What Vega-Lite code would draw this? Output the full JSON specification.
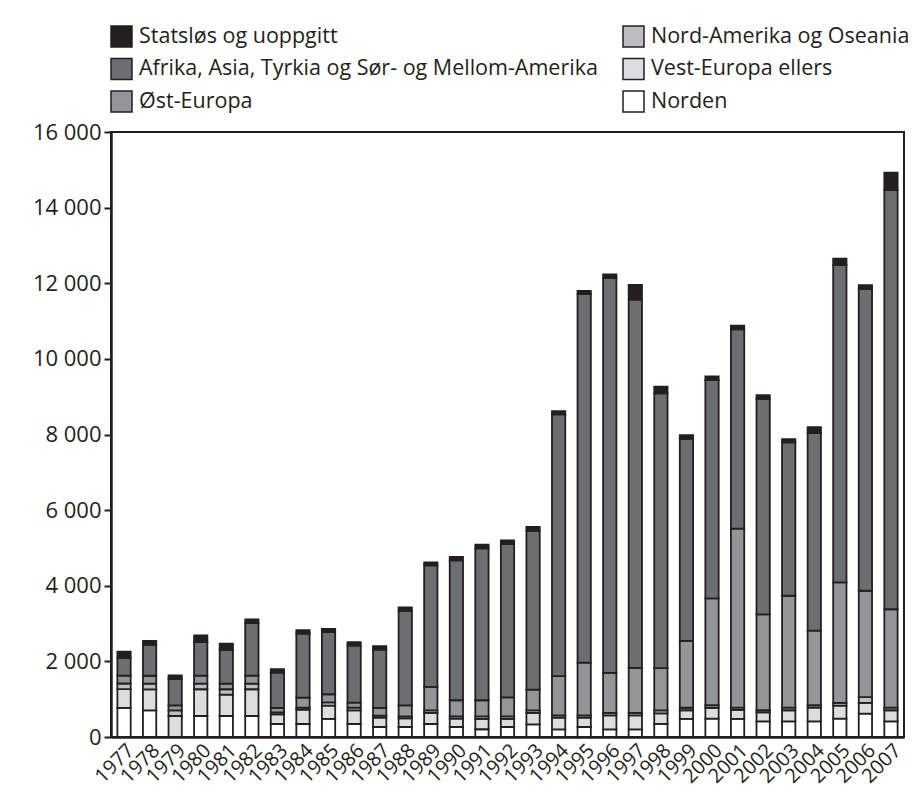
{
  "$schema": "https://vega.github.io/schema/vega-lite/v6.json",
  "autosize": "none",
  "width": 793,
  "height": 605,
  "padding": {"left": 111, "top": 132, "right": 20, "bottom": 60},
  "background": "white",
  "datasets": {
    "regioner": [
      {"region": "Norden", "rekkefolge": 1},
      {"region": "Vest-Europa ellers", "rekkefolge": 2},
      {"region": "Nord-Amerika og Oseania", "rekkefolge": 3},
      {"region": "Øst-Europa", "rekkefolge": 4},
      {"region": "Afrika, Asia, Tyrkia og Sør- og Mellom-Amerika", "rekkefolge": 5},
      {"region": "Statsløs og uoppgitt", "rekkefolge": 6}
    ],
    "asyl": [
      {"år": "1977", "region": "Norden", "antall": 770},
      {"år": "1977", "region": "Vest-Europa ellers", "antall": 495},
      {"år": "1977", "region": "Nord-Amerika og Oseania", "antall": 150},
      {"år": "1977", "region": "Øst-Europa", "antall": 210},
      {"år": "1977", "region": "Afrika, Asia, Tyrkia og Sør- og Mellom-Amerika", "antall": 470},
      {"år": "1977", "region": "Statsløs og uoppgitt", "antall": 165},
      {"år": "1978", "region": "Norden", "antall": 705},
      {"år": "1978", "region": "Vest-Europa ellers", "antall": 555},
      {"år": "1978", "region": "Nord-Amerika og Oseania", "antall": 150},
      {"år": "1978", "region": "Øst-Europa", "antall": 210},
      {"år": "1978", "region": "Afrika, Asia, Tyrkia og Sør- og Mellom-Amerika", "antall": 820},
      {"år": "1978", "region": "Statsløs og uoppgitt", "antall": 100},
      {"år": "1979", "region": "Norden", "antall": 0},
      {"år": "1979", "region": "Vest-Europa ellers", "antall": 556},
      {"år": "1979", "region": "Nord-Amerika og Oseania", "antall": 150},
      {"år": "1979", "region": "Øst-Europa", "antall": 133},
      {"år": "1979", "region": "Afrika, Asia, Tyrkia og Sør- og Mellom-Amerika", "antall": 690},
      {"år": "1979", "region": "Statsløs og uoppgitt", "antall": 97},
      {"år": "1980", "region": "Norden", "antall": 556},
      {"år": "1980", "region": "Vest-Europa ellers", "antall": 707},
      {"år": "1980", "region": "Nord-Amerika og Oseania", "antall": 150},
      {"år": "1980", "region": "Øst-Europa", "antall": 212},
      {"år": "1980", "region": "Afrika, Asia, Tyrkia og Sør- og Mellom-Amerika", "antall": 883},
      {"år": "1980", "region": "Statsløs og uoppgitt", "antall": 176},
      {"år": "1981", "region": "Norden", "antall": 556},
      {"år": "1981", "region": "Vest-Europa ellers", "antall": 565},
      {"år": "1981", "region": "Nord-Amerika og Oseania", "antall": 142},
      {"år": "1981", "region": "Øst-Europa", "antall": 150},
      {"år": "1981", "region": "Afrika, Asia, Tyrkia og Sør- og Mellom-Amerika", "antall": 892},
      {"år": "1981", "region": "Statsløs og uoppgitt", "antall": 167},
      {"år": "1982", "region": "Norden", "antall": 556},
      {"år": "1982", "region": "Vest-Europa ellers", "antall": 707},
      {"år": "1982", "region": "Nord-Amerika og Oseania", "antall": 150},
      {"år": "1982", "region": "Øst-Europa", "antall": 212},
      {"år": "1982", "region": "Afrika, Asia, Tyrkia og Sør- og Mellom-Amerika", "antall": 1386},
      {"år": "1982", "region": "Statsløs og uoppgitt", "antall": 97},
      {"år": "1983", "region": "Norden", "antall": 344},
      {"år": "1983", "region": "Vest-Europa ellers", "antall": 256},
      {"år": "1983", "region": "Nord-Amerika og Oseania", "antall": 53},
      {"år": "1983", "region": "Øst-Europa", "antall": 115},
      {"år": "1983", "region": "Afrika, Asia, Tyrkia og Sør- og Mellom-Amerika", "antall": 936},
      {"år": "1983", "region": "Statsløs og uoppgitt", "antall": 89},
      {"år": "1984", "region": "Norden", "antall": 344},
      {"år": "1984", "region": "Vest-Europa ellers", "antall": 380},
      {"år": "1984", "region": "Nord-Amerika og Oseania", "antall": 53},
      {"år": "1984", "region": "Øst-Europa", "antall": 265},
      {"år": "1984", "region": "Afrika, Asia, Tyrkia og Sør- og Mellom-Amerika", "antall": 1695},
      {"år": "1984", "region": "Statsløs og uoppgitt", "antall": 89},
      {"år": "1985", "region": "Norden", "antall": 477},
      {"år": "1985", "region": "Vest-Europa ellers", "antall": 353},
      {"år": "1985", "region": "Nord-Amerika og Oseania", "antall": 88},
      {"år": "1985", "region": "Øst-Europa", "antall": 212},
      {"år": "1985", "region": "Afrika, Asia, Tyrkia og Sør- og Mellom-Amerika", "antall": 1643},
      {"år": "1985", "region": "Statsløs og uoppgitt", "antall": 88},
      {"år": "1986", "region": "Norden", "antall": 344},
      {"år": "1986", "region": "Vest-Europa ellers", "antall": 362},
      {"år": "1986", "region": "Nord-Amerika og Oseania", "antall": 71},
      {"år": "1986", "region": "Øst-Europa", "antall": 132},
      {"år": "1986", "region": "Afrika, Asia, Tyrkia og Sør- og Mellom-Amerika", "antall": 1510},
      {"år": "1986", "region": "Statsløs og uoppgitt", "antall": 89},
      {"år": "1987", "region": "Norden", "antall": 265},
      {"år": "1987", "region": "Vest-Europa ellers", "antall": 247},
      {"år": "1987", "region": "Nord-Amerika og Oseania", "antall": 53},
      {"år": "1987", "region": "Øst-Europa", "antall": 203},
      {"år": "1987", "region": "Afrika, Asia, Tyrkia og Sør- og Mellom-Amerika", "antall": 1545},
      {"år": "1987", "region": "Statsløs og uoppgitt", "antall": 89},
      {"år": "1988", "region": "Norden", "antall": 265},
      {"år": "1988", "region": "Vest-Europa ellers", "antall": 229},
      {"år": "1988", "region": "Nord-Amerika og Oseania", "antall": 53},
      {"år": "1988", "region": "Øst-Europa", "antall": 292},
      {"år": "1988", "region": "Afrika, Asia, Tyrkia og Sør- og Mellom-Amerika", "antall": 2499},
      {"år": "1988", "region": "Statsløs og uoppgitt", "antall": 90},
      {"år": "1989", "region": "Norden", "antall": 344},
      {"år": "1989", "region": "Vest-Europa ellers", "antall": 292},
      {"år": "1989", "region": "Nord-Amerika og Oseania", "antall": 70},
      {"år": "1989", "region": "Øst-Europa", "antall": 619},
      {"år": "1989", "region": "Afrika, Asia, Tyrkia og Sør- og Mellom-Amerika", "antall": 3215},
      {"år": "1989", "region": "Statsløs og uoppgitt", "antall": 80},
      {"år": "1990", "region": "Norden", "antall": 265},
      {"år": "1990", "region": "Vest-Europa ellers", "antall": 221},
      {"år": "1990", "region": "Nord-Amerika og Oseania", "antall": 61},
      {"år": "1990", "region": "Øst-Europa", "antall": 425},
      {"år": "1990", "region": "Afrika, Asia, Tyrkia og Sør- og Mellom-Amerika", "antall": 3698},
      {"år": "1990", "region": "Statsløs og uoppgitt", "antall": 90},
      {"år": "1991", "region": "Norden", "antall": 205},
      {"år": "1991", "region": "Vest-Europa ellers", "antall": 272},
      {"år": "1991", "region": "Nord-Amerika og Oseania", "antall": 70},
      {"år": "1991", "region": "Øst-Europa", "antall": 425},
      {"år": "1991", "region": "Afrika, Asia, Tyrkia og Sør- og Mellom-Amerika", "antall": 4018},
      {"år": "1991", "region": "Statsløs og uoppgitt", "antall": 97},
      {"år": "1992", "region": "Norden", "antall": 265},
      {"år": "1992", "region": "Vest-Europa ellers", "antall": 212},
      {"år": "1992", "region": "Nord-Amerika og Oseania", "antall": 70},
      {"år": "1992", "region": "Øst-Europa", "antall": 503},
      {"år": "1992", "region": "Afrika, Asia, Tyrkia og Sør- og Mellom-Amerika", "antall": 4054},
      {"år": "1992", "region": "Statsløs og uoppgitt", "antall": 97},
      {"år": "1993", "region": "Norden", "antall": 336},
      {"år": "1993", "region": "Vest-Europa ellers", "antall": 300},
      {"år": "1993", "region": "Nord-Amerika og Oseania", "antall": 70},
      {"år": "1993", "region": "Øst-Europa", "antall": 548},
      {"år": "1993", "region": "Afrika, Asia, Tyrkia og Sør- og Mellom-Amerika", "antall": 4195},
      {"år": "1993", "region": "Statsløs og uoppgitt", "antall": 106},
      {"år": "1994", "region": "Norden", "antall": 203},
      {"år": "1994", "region": "Vest-Europa ellers", "antall": 309},
      {"år": "1994", "region": "Nord-Amerika og Oseania", "antall": 62},
      {"år": "1994", "region": "Øst-Europa", "antall": 1036},
      {"år": "1994", "region": "Afrika, Asia, Tyrkia og Sør- og Mellom-Amerika", "antall": 6921},
      {"år": "1994", "region": "Statsløs og uoppgitt", "antall": 88},
      {"år": "1995", "region": "Norden", "antall": 265},
      {"år": "1995", "region": "Vest-Europa ellers", "antall": 247},
      {"år": "1995", "region": "Nord-Amerika og Oseania", "antall": 62},
      {"år": "1995", "region": "Øst-Europa", "antall": 1395},
      {"år": "1995", "region": "Afrika, Asia, Tyrkia og Sør- og Mellom-Amerika", "antall": 9741},
      {"år": "1995", "region": "Statsløs og uoppgitt", "antall": 88},
      {"år": "1996", "region": "Norden", "antall": 203},
      {"år": "1996", "region": "Vest-Europa ellers", "antall": 371},
      {"år": "1996", "region": "Nord-Amerika og Oseania", "antall": 62},
      {"år": "1996", "region": "Øst-Europa", "antall": 1059},
      {"år": "1996", "region": "Afrika, Asia, Tyrkia og Sør- og Mellom-Amerika", "antall": 10439},
      {"år": "1996", "region": "Statsløs og uoppgitt", "antall": 97},
      {"år": "1997", "region": "Norden", "antall": 203},
      {"år": "1997", "region": "Vest-Europa ellers", "antall": 371},
      {"år": "1997", "region": "Nord-Amerika og Oseania", "antall": 62},
      {"år": "1997", "region": "Øst-Europa", "antall": 1192},
      {"år": "1997", "region": "Afrika, Asia, Tyrkia og Sør- og Mellom-Amerika", "antall": 9740},
      {"år": "1997", "region": "Statsløs og uoppgitt", "antall": 389},
      {"år": "1998", "region": "Norden", "antall": 345},
      {"år": "1998", "region": "Vest-Europa ellers", "antall": 280},
      {"år": "1998", "region": "Nord-Amerika og Oseania", "antall": 80},
      {"år": "1998", "region": "Øst-Europa", "antall": 1115},
      {"år": "1998", "region": "Afrika, Asia, Tyrkia og Sør- og Mellom-Amerika", "antall": 7266},
      {"år": "1998", "region": "Statsløs og uoppgitt", "antall": 177},
      {"år": "1999", "region": "Norden", "antall": 477},
      {"år": "1999", "region": "Vest-Europa ellers", "antall": 230},
      {"år": "1999", "region": "Nord-Amerika og Oseania", "antall": 66},
      {"år": "1999", "region": "Øst-Europa", "antall": 1767},
      {"år": "1999", "region": "Afrika, Asia, Tyrkia og Sør- og Mellom-Amerika", "antall": 5346},
      {"år": "1999", "region": "Statsløs og uoppgitt", "antall": 97},
      {"år": "2000", "region": "Norden", "antall": 486},
      {"år": "2000", "region": "Vest-Europa ellers", "antall": 283},
      {"år": "2000", "region": "Nord-Amerika og Oseania", "antall": 71},
      {"år": "2000", "region": "Øst-Europa", "antall": 2825},
      {"år": "2000", "region": "Afrika, Asia, Tyrkia og Sør- og Mellom-Amerika", "antall": 5776},
      {"år": "2000", "region": "Statsløs og uoppgitt", "antall": 97},
      {"år": "2001", "region": "Norden", "antall": 478},
      {"år": "2001", "region": "Vest-Europa ellers", "antall": 240},
      {"år": "2001", "region": "Nord-Amerika og Oseania", "antall": 60},
      {"år": "2001", "region": "Øst-Europa", "antall": 4732},
      {"år": "2001", "region": "Afrika, Asia, Tyrkia og Sør- og Mellom-Amerika", "antall": 5272},
      {"år": "2001", "region": "Statsløs og uoppgitt", "antall": 98},
      {"år": "2002", "region": "Norden", "antall": 412},
      {"år": "2002", "region": "Vest-Europa ellers", "antall": 238},
      {"år": "2002", "region": "Nord-Amerika og Oseania", "antall": 57},
      {"år": "2002", "region": "Øst-Europa", "antall": 2534},
      {"år": "2002", "region": "Afrika, Asia, Tyrkia og Sør- og Mellom-Amerika", "antall": 5705},
      {"år": "2002", "region": "Statsløs og uoppgitt", "antall": 97},
      {"år": "2003", "region": "Norden", "antall": 412},
      {"år": "2003", "region": "Vest-Europa ellers", "antall": 295},
      {"år": "2003", "region": "Nord-Amerika og Oseania", "antall": 71},
      {"år": "2003", "region": "Øst-Europa", "antall": 2958},
      {"år": "2003", "region": "Afrika, Asia, Tyrkia og Sør- og Mellom-Amerika", "antall": 4054},
      {"år": "2003", "region": "Statsløs og uoppgitt", "antall": 88},
      {"år": "2004", "region": "Norden", "antall": 412},
      {"år": "2004", "region": "Vest-Europa ellers", "antall": 363},
      {"år": "2004", "region": "Nord-Amerika og Oseania", "antall": 65},
      {"år": "2004", "region": "Øst-Europa", "antall": 1974},
      {"år": "2004", "region": "Afrika, Asia, Tyrkia og Sør- og Mellom-Amerika", "antall": 5223},
      {"år": "2004", "region": "Statsløs og uoppgitt", "antall": 159},
      {"år": "2005", "region": "Norden", "antall": 486},
      {"år": "2005", "region": "Vest-Europa ellers", "antall": 345},
      {"år": "2005", "region": "Nord-Amerika og Oseania", "antall": 74},
      {"år": "2005", "region": "Øst-Europa", "antall": 3184},
      {"år": "2005", "region": "Afrika, Asia, Tyrkia og Sør- og Mellom-Amerika", "antall": 8396},
      {"år": "2005", "region": "Statsløs og uoppgitt", "antall": 165},
      {"år": "2006", "region": "Norden", "antall": 619},
      {"år": "2006", "region": "Vest-Europa ellers", "antall": 282},
      {"år": "2006", "region": "Nord-Amerika og Oseania", "antall": 151},
      {"år": "2006", "region": "Øst-Europa", "antall": 2816},
      {"år": "2006", "region": "Afrika, Asia, Tyrkia og Sør- og Mellom-Amerika", "antall": 7974},
      {"år": "2006", "region": "Statsløs og uoppgitt", "antall": 106},
      {"år": "2007", "region": "Norden", "antall": 412},
      {"år": "2007", "region": "Vest-Europa ellers", "antall": 295},
      {"år": "2007", "region": "Nord-Amerika og Oseania", "antall": 71},
      {"år": "2007", "region": "Øst-Europa", "antall": 2600},
      {"år": "2007", "region": "Afrika, Asia, Tyrkia og Sør- og Mellom-Amerika", "antall": 11087},
      {"år": "2007", "region": "Statsløs og uoppgitt", "antall": 459}
    ]
  },
  "data": {"name": "asyl"},
  "transform": [
    {"lookup": "region", "from": {"data": {"name": "regioner"}, "key": "region", "fields": ["rekkefolge"]}}
  ],
  "mark": {"type": "bar", "stroke": "#231f20", "strokeWidth": 1.8},
  "encoding": {
    "x": {
      "field": "år",
      "type": "ordinal",
      "scale": {"paddingInner": 0.48, "paddingOuter": 0.25},
      "axis": {
        "title": null,
        "ticks": false,
        "labelAngle": -45,
        "labelFontSize": 20,
        "labelColor": "#231f20",
        "labelPadding": 3,
        "domainColor": "#231f20",
        "domainWidth": 2.5
      }
    },
    "y": {
      "field": "antall",
      "type": "quantitative",
      "stack": "zero",
      "scale": {"domain": [0, 16000], "nice": false},
      "axis": {
        "title": null,
        "values": [0, 2000, 4000, 6000, 8000, 10000, 12000, 14000, 16000],
        "format": ",d",
        "grid": false,
        "labelFontSize": 22,
        "labelColor": "#231f20",
        "labelPadding": 3,
        "tickSize": 7,
        "tickWidth": 2,
        "tickColor": "#231f20",
        "domainColor": "#231f20",
        "domainWidth": 2.5
      }
    },
    "color": {
      "field": "region",
      "type": "nominal",
      "scale": {
        "domain": ["Statsløs og uoppgitt", "Afrika, Asia, Tyrkia og Sør- og Mellom-Amerika", "Øst-Europa", "Nord-Amerika og Oseania", "Vest-Europa ellers", "Norden"],
        "range": ["#231f20", "#6d6e71", "#939598", "#bcbec0", "#dcddde", "#ffffff"]
      },
      "legend": {
        "title": null,
        "orient": "none",
        "legendX": -1,
        "legendY": -107,
        "columns": 2,
        "columnPadding": 22,
        "rowPadding": 5.5,
        "symbolType": "square",
        "symbolSize": 440,
        "symbolStrokeColor": "#231f20",
        "symbolStrokeWidth": 1.5,
        "labelFontSize": 21.5,
        "labelColor": "#231f20",
        "labelLimit": 700,
        "labelOffset": 6
      }
    },
    "order": {"field": "rekkefolge", "type": "quantitative", "sort": "ascending"}
  },
  "config": {
    "font": "Open Sans",
    "locale": {"number": {"decimal": ",", "thousands": " ", "grouping": [3], "currency": ["", ""]}},
    "view": {"stroke": "#231f20", "strokeWidth": 2}
  }
}
